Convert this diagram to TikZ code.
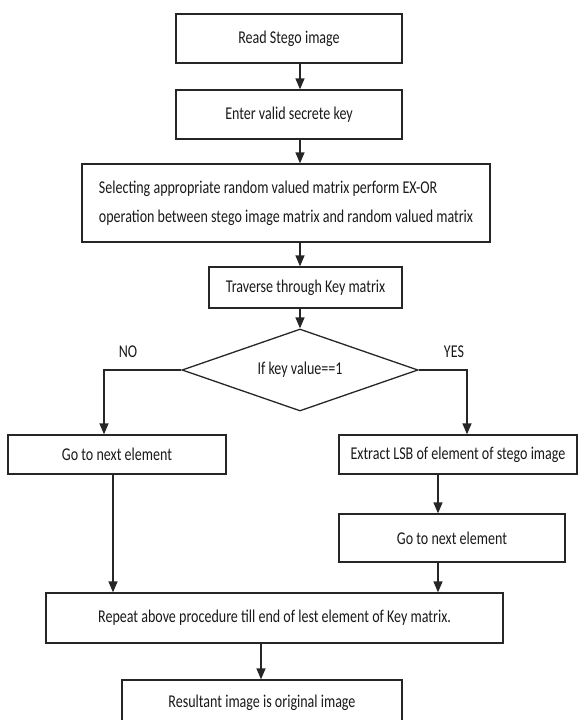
\documentclass[tikz,border=0pt]{standalone}
\usepackage{fontspec}
\setmainfont{Carlito}[FakeStretch=0.78]
\usetikzlibrary{shapes.geometric, arrows.meta}
\tikzstyle{process} = [rectangle, draw=black!85, line width=1.3pt, text=black!90, text centered, inner sep=0pt]
\tikzstyle{decision} = [diamond, draw=black!85, line width=1.3pt, text=black!90, shape aspect=2.9, inner sep=0pt, minimum width=236pt, minimum height=82pt]
\tikzstyle{answer} = [text=black!90]
\tikzstyle{arrow} = [draw=black!85, line width=1.3pt, -{Triangle[length=11pt, width=9pt]}]

\begin{document}
\begin{tikzpicture}[x=1pt, y=-1pt, font=\fontsize{18}{29}\selectfont]

    \useasboundingbox (0,0) rectangle (578,720);

    % main column
    \node (read) [process, minimum width=226pt, minimum height=49pt] at (289,38.5) {Read Stego image};
    \node (key) [process, minimum width=226pt, minimum height=49pt] at (289,114.5) {Enter valid secrete key};
    \node (select) [process, align=left, minimum width=408pt, minimum height=78pt] at (286,203)
        {Selecting appropriate random valued matrix perform EX-OR\\operation between stego image matrix and random valued matrix};
    \node (traverse) [process, minimum width=193pt, minimum height=41pt] at (305.5,287.5) {Traverse through Key matrix};
    \node (dec) [decision] at (300,370) {If key value==1};

    \node (no) [answer] at (128,352) {NO};
    \node (yes) [answer] at (454,352) {YES};

    % branches
    \node (next1) [process, minimum width=218pt, minimum height=39pt] at (117,454.5) {Go to next element};
    \node (extract) [process, minimum width=238pt, minimum height=39pt] at (458,454.5) {Extract LSB of element of stego image};
    \node (next2) [process, minimum width=226pt, minimum height=48pt] at (452,538) {Go to next element};

    \node (repeat) [process, minimum width=457pt, minimum height=50pt] at (274.5,618) {Repeat above procedure till end of lest element of Key matrix.};
    \node (result) [process, minimum width=280pt, minimum height=46pt] at (262,703) {Resultant image is original image};

    % lanes of the connectors
    \coordinate (spine) at (300,0);
    \coordinate (nolane) at (104,0);
    \coordinate (yeslane) at (467,0);
    \coordinate (leftdrop) at (113,0);
    \coordinate (rightdrop) at (438,0);
    \coordinate (enddrop) at (261,0);

    \draw [arrow] (read.south -| spine) -- (key.north -| spine);
    \draw [arrow] (key.south -| spine) -- (select.north -| spine);
    \draw [arrow] (select.south -| spine) -- (traverse.north -| spine);
    \draw [arrow] (traverse.south -| spine) -- (dec.north);

    \draw [arrow] (dec.west) -| (next1.north -| nolane);
    \draw [arrow] (dec.east) -| (extract.north -| yeslane);
    \draw [arrow] (extract.south -| rightdrop) -- (next2.north -| rightdrop);

    \draw [arrow] (next1.south -| leftdrop) -- (repeat.north -| leftdrop);
    \draw [arrow] (next2.south -| rightdrop) -- (repeat.north -| rightdrop);
    \draw [arrow] (repeat.south -| enddrop) -- (result.north -| enddrop);

\end{tikzpicture}
\end{document}
